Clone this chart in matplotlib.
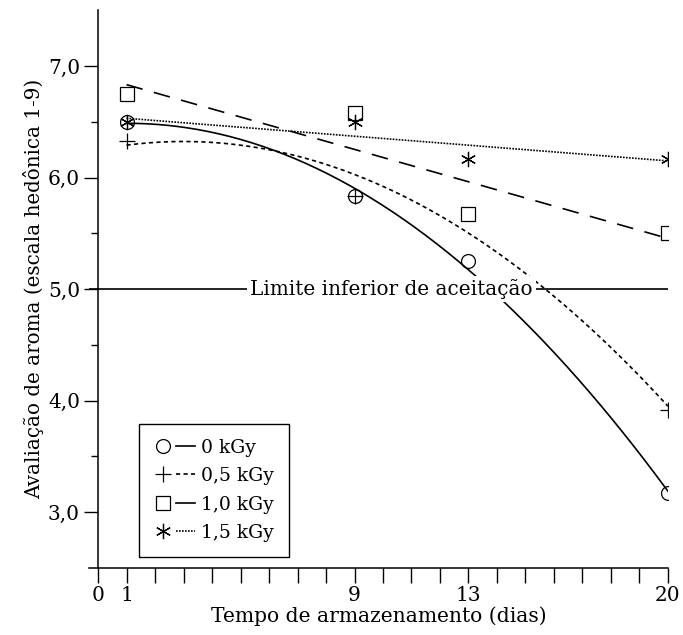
import numpy as np
import matplotlib
matplotlib.use("Agg")
import matplotlib.pyplot as plt
from matplotlib.lines import Line2D
from matplotlib.legend_handler import HandlerTuple
from matplotlib.ticker import FixedLocator, FuncFormatter

plt.rcParams["font.family"] = ["DejaVu Serif"]
plt.rcParams["font.size"] = 13

# storage days and aroma scores
days = [1, 9, 13, 20]
score_0 = [6.50, 5.83, 5.25, 3.17]
days_05 = [1, 9, 20]
score_05 = [6.33, 5.83, 3.92]
score_10 = [6.75, 6.58, 5.67, 5.50]
score_15 = [6.50, 6.50, 6.17, 6.17]

# 0,5 kGy fitted curve as drawn (c0 + c1*x + c2*x^2)
fit_05 = [6.249, 0.04926, -0.00821]

labels = ["0 kGy", "0,5 kGy", "1,0 kGy", "1,5 kGy"]
limit = 5.0
x_labels = {0: "0", 1: "1", 9: "9", 13: "13", 20: "20"}

fig = plt.figure(figsize=(6.83, 6.35), dpi=100)
ax = fig.add_axes([0.131, 0.1055, 0.847, 0.8785])

xs = np.linspace(1, 20, 200)
c0 = np.polyfit(days, score_0, 2)
c10 = np.polyfit(days, score_10, 1)
c15 = np.polyfit(days, score_15, 1)

lw = 1.2
ax.plot(xs, np.polyval(c0, xs), color="black", lw=lw, ls="-", zorder=2)
ax.plot(xs, fit_05[0] + fit_05[1] * xs + fit_05[2] * xs ** 2, color="black",
        lw=lw, ls=(0, (2.5, 2)), zorder=2)
ax.plot(xs, np.polyval(c10, xs), color="black", lw=lw, ls=(0, (10, 7)), zorder=2)
ax.plot(xs, np.polyval(c15, xs), color="black", lw=lw, ls=(0, (1, 0.8)), zorder=2)

ms = 10
star = (6, 2, 0)
ax.plot(days, score_0, "o", ms=ms, mfc="none", mec="black", mew=0.9, zorder=3)
ax.plot(days_05, score_05, "+", ms=ms + 2, mec="black", mew=0.9, zorder=3)
ax.plot(days, score_10, "s", ms=ms - 0.5, mfc="none", mec="black", mew=0.9, zorder=3)
ax.plot(days, score_15, marker=star, ls="none", ms=ms + 1, mec="black", mew=0.9, zorder=3)

# acceptance limit
ax.axhline(limit, color="black", lw=1.2, zorder=1)
ax.text(10.3, limit, "Limite inferior de aceitação", ha="center", va="center",
        fontsize=14.4, zorder=4,
        bbox=dict(facecolor="white", edgecolor="none", pad=2))

ax.set_xlim(-0.3, 20)
ax.set_ylim(2.5, 7.5)
ax.spines["top"].set_visible(False)
ax.spines["right"].set_visible(False)
ax.spines["left"].set_position(("data", 0))
for s in ["left", "bottom"]:
    ax.spines[s].set_linewidth(1.1)

ax.xaxis.set_major_locator(FixedLocator(range(0, 21)))
ax.xaxis.set_major_formatter(FuncFormatter(lambda v, p: x_labels.get(int(round(v)), "")))
ax.yaxis.set_major_locator(FixedLocator([3, 4, 5, 6, 7]))
ax.yaxis.set_minor_locator(FixedLocator([3.5, 4.5, 5.5, 6.5]))
ax.yaxis.set_major_formatter(FuncFormatter(lambda v, p: f"{v:.1f}".replace(".", ",")))
ax.tick_params(axis="x", direction="out", length=11, width=1.0, pad=2, labelsize=14.5)
ax.tick_params(axis="y", which="major", direction="out", length=10, width=1.0, pad=3, labelsize=14.5)
ax.tick_params(axis="y", which="minor", direction="out", length=5, width=1.0)

ax.set_xlabel("Tempo de armazenamento (dias)", fontsize=14.6, labelpad=1)
ax.set_ylabel("Avaliação de aroma (escala hedônica 1-9)", fontsize=14.3, labelpad=3)

# legend: marker on the left, line sample on the right
handles = [
    (Line2D([], [], marker="o", ls="none", ms=ms, mfc="none", mec="black", mew=0.9),
     Line2D([], [], color="black", lw=lw, ls="-")),
    (Line2D([], [], marker="+", ls="none", ms=ms + 2, mec="black", mew=0.9),
     Line2D([], [], color="black", lw=lw, ls=(0, (2.5, 2)))),
    (Line2D([], [], marker="s", ls="none", ms=ms - 0.5, mfc="none", mec="black", mew=0.9),
     Line2D([], [], color="black", lw=lw, ls="-")),
    (Line2D([], [], marker=star, ls="none", ms=ms + 1, mec="black", mew=0.9),
     Line2D([], [], color="black", lw=lw, ls=(0, (1, 0.8)))),
]
leg = ax.legend(handles, labels, handler_map={tuple: HandlerTuple(ndivide=None, pad=0.2)},
                loc="lower left", bbox_to_anchor=(0.0856, 0.0197), borderaxespad=0,
                fancybox=False, edgecolor="black", framealpha=1, fontsize=13.5,
                handlelength=2.2, handletextpad=0.3, labelspacing=0.56, borderpad=0.8)
leg.get_frame().set_linewidth(1.0)

fig.savefig("out.png", dpi=100)
